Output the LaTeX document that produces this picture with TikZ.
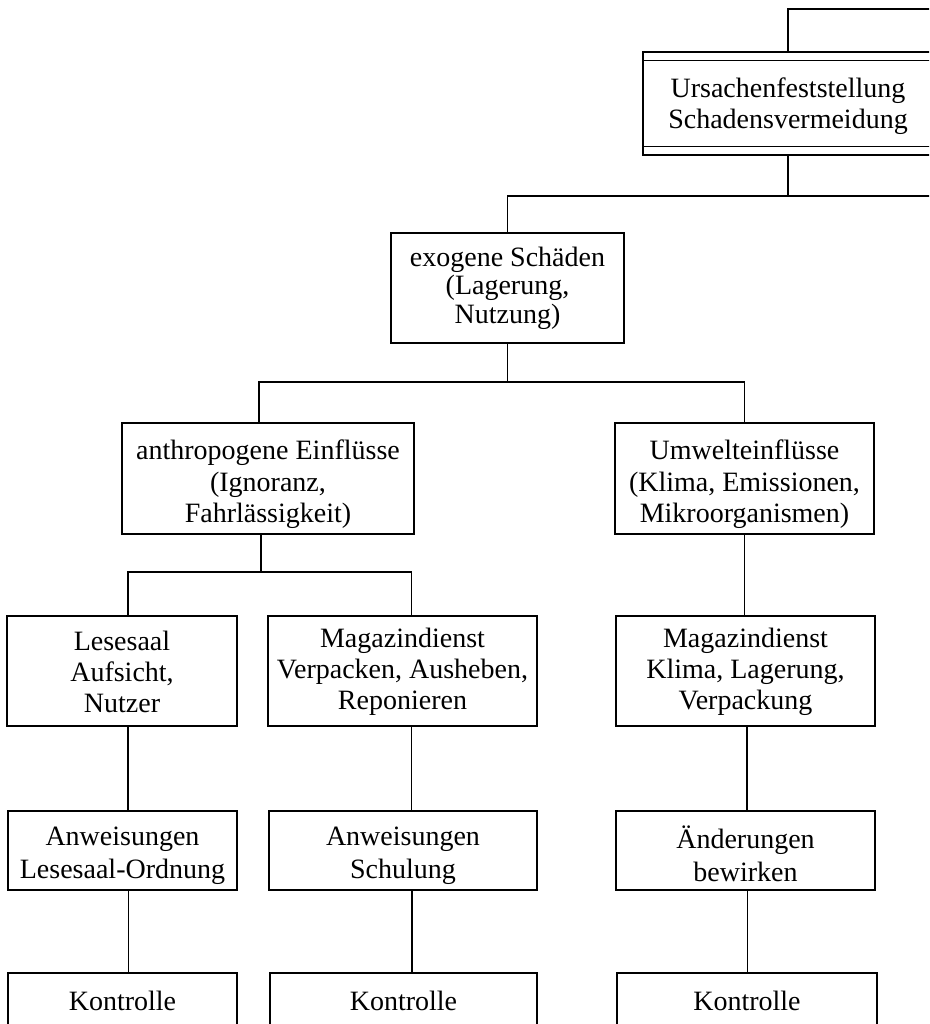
\documentclass[tikz,border=0pt]{standalone}
\usepackage{fontspec}
\setmainfont{Liberation Serif}
\begin{document}
\begin{tikzpicture}[x=1pt,y=1pt,
  box/.style={draw, line width=1.4pt, rectangle, inner sep=0pt},
  txt/.style={inner sep=0pt, align=center, font=\fontsize{28}{31}\selectfont},
  conn/.style={line width=1.2pt}]
\useasboundingbox (0,0) rectangle (929,-1024);
\clip (0,0) rectangle (929,-1024);
% nodes
\node[box, minimum width=290pt, minimum height=103pt,
  label={[txt, yshift=-3pt]center:{Ursachenfeststellung\\Schadensvermeidung}}] (top) at (788,-103.5) {};
\draw[line width=1.2pt] ([yshift=-9pt]top.north west) -- ([yshift=-9pt]top.north east);
\draw[line width=1.2pt] ([yshift=9pt]top.south west) -- ([yshift=9pt]top.south east);
\node[box, minimum width=233pt, minimum height=110pt,
  label={[txt, font=\fontsize{28}{28.5}\selectfont]center:{exogene Schäden\\(Lagerung,\\Nutzung)}}] (exo) at (507.5,-288) {};
\node[box, minimum width=292pt, minimum height=111pt,
  label={[txt, yshift=-6pt, font=\fontsize{28}{31.5}\selectfont]center:{anthropogene Einflüsse\\(Ignoranz,\\Fahrlässigkeit)}}] (anthro) at (268,-478.5) {};
\node[box, minimum width=259pt, minimum height=111pt,
  label={[txt, yshift=-6pt, font=\fontsize{28}{31.5}\selectfont]center:{Umwelteinflüsse\\(Klima, Emissionen,\\Mikroorganismen)}}] (umwelt) at (744.5,-478.5) {};
\node[box, minimum width=230pt, minimum height=110pt,
  label={[txt, yshift=-1pt]center:{Lesesaal\\Aufsicht,\\Nutzer}}] (lese) at (122,-671) {};
\node[box, minimum width=269pt, minimum height=110pt,
  label={[txt, yshift=-1pt]center:{Magazindienst\\Verpacken, Ausheben,\\Reponieren}}] (mag1) at (402.5,-671) {};
\node[box, minimum width=259pt, minimum height=110pt,
  label={[txt, yshift=-1pt]center:{Magazindienst\\Klima, Lagerung,\\Verpackung}}] (mag2) at (745.5,-671) {};
\node[box, minimum width=229pt, minimum height=79pt,
  label={[txt, yshift=-5pt, font=\fontsize{28}{33}\selectfont]center:{Anweisungen\\Lesesaal-Ordnung}}] (anw1) at (122.5,-850.5) {};
\node[box, minimum width=268pt, minimum height=79pt,
  label={[txt, yshift=-5pt, font=\fontsize{28}{33}\selectfont]center:{Anweisungen\\Schulung}}] (anw2) at (403,-850.5) {};
\node[box, minimum width=259pt, minimum height=79pt,
  label={[txt, yshift=-3pt, font=\fontsize{28}{33}\selectfont]center:{Änderungen\\bewirken}}] (aend) at (745.5,-850.5) {};
\node[box, minimum width=229pt, minimum height=56pt, label={[txt]center:Kontrolle}] (k1) at (122.5,-1001) {};
\node[box, minimum width=267pt, minimum height=56pt, label={[txt]center:Kontrolle}] (k2) at (403.5,-1001) {};
\node[box, minimum width=260pt, minimum height=56pt, label={[txt]center:Kontrolle}] (k3) at (747,-1001) {};
% coordinates
\coordinate (offT) at (960,-9);
\coordinate (offA) at (960,-196);
\coordinate (busB) at (0,-382);
\coordinate (busC) at (0,-572);
\coordinate (m1n) at ([xshift=9pt]mag1.north);
% connectors
\draw[conn] (top.north) |- (offT);
\draw[conn] (top.south) -- (top.south |- offA);
\draw[conn] (exo.north) |- (offA);
\draw[conn] (exo.south) -- (exo.south |- busB);
\draw[conn] ([xshift=-9pt]anthro.north) |- (busB -| umwelt.north) -- (umwelt.north);
\draw[conn] ([xshift=-7pt]anthro.south) -- ([xshift=-7pt]anthro.south |- busC);
\draw[conn] ([xshift=6pt]lese.north) |- (busC -| m1n) -- (m1n);
\draw[conn] (umwelt.south) -- (umwelt.south |- mag2.north);
\draw[conn] ([xshift=6pt]lese.south) -- ([xshift=6pt]lese.south |- anw1.north);
\draw[conn] ([xshift=6pt]anw1.south) -- ([xshift=6pt]anw1.south |- k1.north);
\draw[conn] ([xshift=9pt]mag1.south) -- ([xshift=9pt]mag1.south |- anw2.north);
\draw[conn] ([xshift=9pt]anw2.south) -- ([xshift=9pt]anw2.south |- k2.north);
\draw[conn] ([xshift=1.5pt]mag2.south) -- ([xshift=1.5pt]mag2.south |- aend.north);
\draw[conn] ([xshift=2pt]aend.south) -- ([xshift=2pt]aend.south |- k3.north);
\end{tikzpicture}
\end{document}
